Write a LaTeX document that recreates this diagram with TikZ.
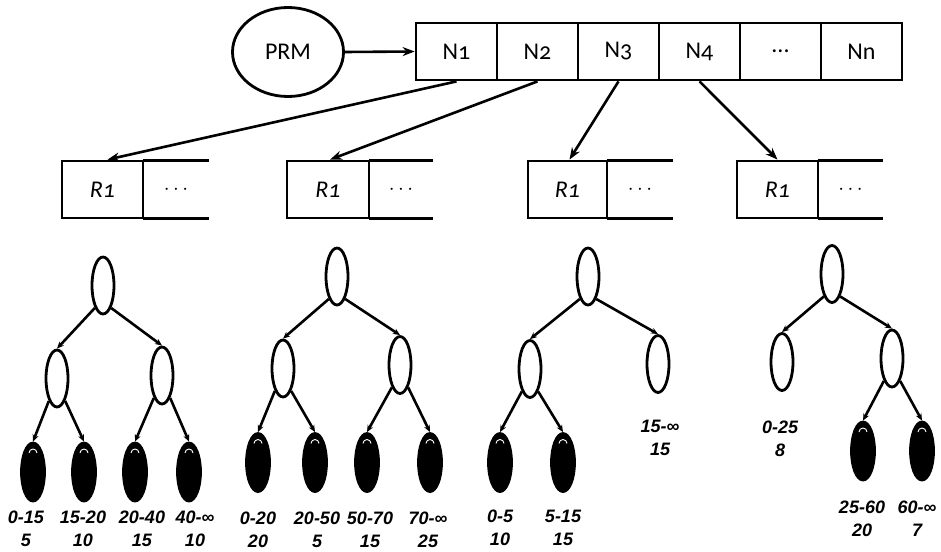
\documentclass[tikz,border=0pt]{standalone}
\usepackage{fontspec}
\setmainfont{Carlito}[Numbers=OldStyle]
\newfontfamily\lblfont{Liberation Sans}
\usetikzlibrary{shapes.geometric,arrows.meta}
\tikzset{
  bigarrow/.style={line width=2.6pt,-{Stealth[length=12pt,width=9pt]}},
  treearrow/.style={line width=2.6pt,-{Stealth[length=7pt,width=6pt]}},
  cell/.style={draw,line width=2.8pt,rectangle,minimum width=81pt,minimum height=57pt,inner sep=0pt,font=\fontsize{24}{28}\selectfont},
  rcell/.style={draw,line width=2.8pt,rectangle,minimum height=57pt,inner sep=0pt,font=\fontsize{24}{28}\selectfont\itshape},
  dcell/.style={rectangle,minimum height=57pt,inner sep=0pt,font=\fontsize{22}{26}\selectfont},
  tnode/.style={draw,line width=2.8pt,ellipse,minimum width=22pt,minimum height=57pt,inner sep=0pt},
  leaf/.style={draw,line width=2.8pt,fill=black,ellipse,minimum width=23pt,minimum height=58pt,inner sep=0pt,
    path picture={\draw[white,line width=0.9pt] ([shift={(-4,10)}]path picture bounding box.north) arc[start angle=180,end angle=0,radius=4pt];}},
  lbl/.style={align=center,inner sep=0pt,font=\lblfont\bfseries\itshape\fontsize{18}{23}\selectfont}
}
\begin{document}
\begin{tikzpicture}[x=1pt,y=-1pt]
\useasboundingbox (0,0) rectangle (941,551);
% top
\node[draw,line width=2.8pt,ellipse,minimum width=111pt,minimum height=89pt,inner sep=0pt,font=\fontsize{24}{28}\selectfont] (prm) at (288,52) {PRM};
\node[cell] (n1) at (456.5,51.5) {N1};
\node[cell] (n2) at (537.5,51.5) {N2};
\node[cell] (n3) at (618.5,51.5) {N3};
\node[cell] (n4) at (699.5,51.5) {N4};
\node[cell] (n5) at (780.5,51.5) {...};
\node[cell] (n6) at (861.5,51.5) {Nn};
\draw[bigarrow] (prm.east) -- (n1.west);
% R boxes
\node[rcell,minimum width=81pt] (r1a) at (102.5,189.5) {R1};
\node[dcell,minimum width=66pt] (r1b) at (176,189.5) {$\cdots$};
\node[rcell,minimum width=82pt] (r2a) at (328,189.5) {R1};
\node[dcell,minimum width=64pt] (r2b) at (401,189.5) {$\cdots$};
\node[rcell,minimum width=79pt] (r3a) at (567.5,189.5) {R1};
\node[dcell,minimum width=66pt] (r3b) at (640,189.5) {$\cdots$};
\node[rcell,minimum width=81pt] (r4a) at (777.5,189.5) {R1};
\node[dcell,minimum width=65pt] (r4b) at (850.5,189.5) {$\cdots$};
\foreach \b in {r1b,r2b,r3b,r4b}{
  \draw[line width=2.8pt] (\b.north west) -- (\b.north east);
  \draw[line width=2.8pt] (\b.south west) -- (\b.south east);
}
\draw[bigarrow] (n1.south) -- ([xshift=5pt]r1a.north);
\draw[bigarrow] (n2.south) -- ([xshift=2pt]r2a.north);
\draw[bigarrow] (n3.south) -- ([xshift=2pt]r3a.north);
\draw[bigarrow] (n4.south) -- (r4a.north);
% tree 1
\node[tnode] (a0) at (103,285.5) {};
\node[tnode] (a1) at (57,378.5) {};
\node[tnode] (a2) at (162,375.5) {};
\node[leaf] (a3) at (33,472) {};
\node[leaf] (a4) at (84,472) {};
\node[leaf] (a5) at (135,472) {};
\node[leaf] (a6) at (189,472) {};
\draw[treearrow] (a0.250) -- (a1.north);
\draw[treearrow] (a0.290) -- (a2.north);
\draw[treearrow] (a1.250) -- (a3.north);
\draw[treearrow] (a1.290) -- (a4.north);
\draw[treearrow] (a2.250) -- (a5.north);
\draw[treearrow] (a2.290) -- (a6.north);
\node[lbl] (la3) at (26,528.5) {0-15\\5};
\node[lbl] (la4) at (83,528.5) {15-20\\10};
\node[lbl] (la5) at (142,528.5) {20-40\\15};
\node[lbl] (la6) at (195,528.5) {40-∞\\10};
% tree 2
\node[tnode] (b0) at (337,276.5) {};
\node[tnode] (b1) at (283,368.5) {};
\node[tnode] (b2) at (400,365) {};
\node[leaf] (b3) at (258,462.5) {};
\node[leaf] (b4) at (315,462.5) {};
\node[leaf] (b5) at (367,462.5) {};
\node[leaf] (b6) at (430,462.5) {};
\draw[treearrow] (b0.250) -- (b1.north);
\draw[treearrow] (b0.290) -- (b2.north);
\draw[treearrow] (b1.250) -- (b3.north);
\draw[treearrow] (b1.290) -- (b4.north);
\draw[treearrow] (b2.250) -- (b5.north);
\draw[treearrow] (b2.290) -- (b6.north);
\node[lbl] (lb3) at (258,529.5) {0-20\\20};
\node[lbl] (lb4) at (317,529.5) {20-50\\5};
\node[lbl] (lb5) at (370,529.5) {50-70\\15};
\node[lbl] (lb6) at (428,529.5) {70-∞\\25};
% tree 3
\node[tnode] (c0) at (588,276.5) {};
\node[tnode] (c1) at (530,369) {};
\node[tnode] (c2) at (658,364) {};
\node[leaf] (c3) at (500,462.5) {};
\node[leaf] (c4) at (563,462.5) {};
\draw[treearrow] (c0.250) -- (c1.north);
\draw[treearrow] (c0.290) -- (c2.north);
\draw[treearrow] (c1.250) -- (c3.north);
\draw[treearrow] (c1.290) -- (c4.north);
\node[lbl] (lc2) at (660,437.5) {15-∞\\15};
\node[lbl] (lc3) at (500,527.5) {0-5\\10};
\node[lbl] (lc4) at (563,527.5) {5-15\\15};
% tree 4
\node[tnode] (d0) at (832,274) {};
\node[tnode] (d1) at (782,362) {};
\node[tnode] (d2) at (892,358.5) {};
\node[leaf] (d3) at (863,451) {};
\node[leaf] (d4) at (922,451) {};
\draw[treearrow] (d0.250) -- (d1.north);
\draw[treearrow] (d0.290) -- (d2.north);
\draw[treearrow] (d2.250) -- (d3.north);
\draw[treearrow] (d2.290) -- (d4.north);
\node[lbl] (ld1) at (780,438.5) {0-25\\8};
\node[lbl] (ld3) at (862,518.5) {25-60\\20};
\node[lbl] (ld4) at (917,518.5) {60-∞\\7};
\end{tikzpicture}
\end{document}
